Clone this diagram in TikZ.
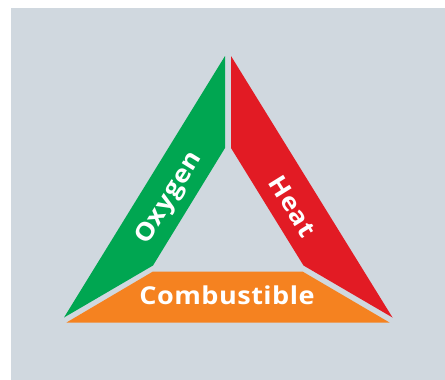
\documentclass[tikz,border=0pt]{standalone}
\usepackage{fontspec}
\setmainfont{Open Sans}
\newfontfamily\lblfont[FakeStretch=1.1,LetterSpace=2]{Open Sans}
\definecolor{bgc}{HTML}{D0D8DF}
\definecolor{grn}{HTML}{00A651}
\definecolor{rd}{HTML}{E21B24}
\definecolor{org}{HTML}{F58220}
\begin{document}
\begin{tikzpicture}[x=1pt,y=-1pt,
  lbl/.style={text=white,font=\lblfont\fontsize{24.6}{26}\selectfont\bfseries,inner sep=0pt,anchor=base}]
\useasboundingbox (0,0) rectangle (445,380);
\fill[bgc] (11,8) rectangle (445,380);
\fill[grn] (225,56) -- (225,148) -- (153,265.5) -- (64,317.5) -- cycle;
\fill[rd] (231,56) -- (231,148) -- (303.5,265.5) -- (392.5,317.5) -- cycle;
\fill[org] (153,271.5) -- (302.5,271.5) -- (389.5,322.5) -- (66.5,322.5) -- cycle;
\node[lbl] (comb) at (227,304.3) {Combustible};
\node[lbl,rotate=58.2] (oxy) at (174.8,201.6) {Oxygen};
\node[lbl,rotate=-58.2] (heat) at (285.3,211) {Heat};
\end{tikzpicture}
\end{document}
